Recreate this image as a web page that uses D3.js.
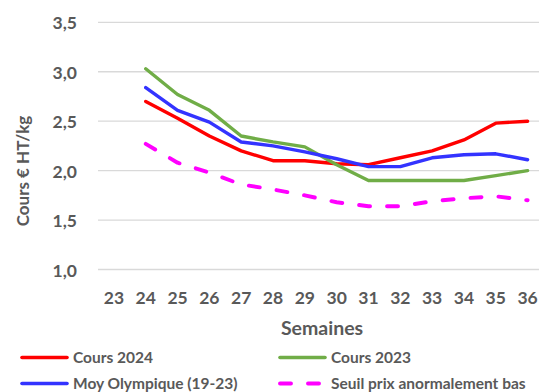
<!DOCTYPE html>
<html>
<head>
<meta charset="utf-8">
<script src="https://cdn.jsdelivr.net/npm/d3@7"></script>
<style>
  html, body { margin: 0; padding: 0; background: #fff; }
  svg { display: block; }
  text { font-family: Lato, "Open Sans", sans-serif; font-weight: bold; fill: #595959; }
</style>
</head>
<body>
<svg id="chart" width="539" height="392"></svg>
<script>
// Weekly price series (€ HT/kg)
const weeks = ["23","24","25","26","27","28","29","30","31","32","33","34","35","36"];
const dataWeeks = ["24","25","26","27","28","29","30","31","32","33","34","35","36"];
const cours2024 = [2.70, 2.53, 2.35, 2.20, 2.10, 2.10, 2.07, 2.06, 2.13, 2.20, 2.31, 2.48, 2.50];
const cours2023 = [3.03, 2.77, 2.61, 2.35, 2.29, 2.24, 2.06, 1.90, 1.90, 1.90, 1.90, 1.95, 2.00];
const moyOlympique = [2.84, 2.61, 2.49, 2.29, 2.25, 2.19, 2.12, 2.04, 2.04, 2.13, 2.16, 2.17, 2.11];
const seuilBas = [2.27, 2.08, 1.98, 1.86, 1.81, 1.75, 1.68, 1.64, 1.64, 1.69, 1.72, 1.74, 1.70];
const yTicks = [1.0, 1.5, 2.0, 2.5, 3.0, 3.5];

const seriesList = [
  { name: "Cours 2024", values: cours2024, color: "#FF0000", dash: null },
  { name: "Cours 2023", values: cours2023, color: "#70AD47", dash: null },
  { name: "Moy Olympique (19-23)", values: moyOlympique, color: "#3333FF", dash: null },
  { name: "Seuil prix anormalement bas", values: seuilBas, color: "#FF00FF", dash: "11,17" }
];

const svg = d3.select("#chart");

const x = d3.scaleBand().domain(weeks).range([98, 543.5]);
const y = d3.scaleLinear().domain([1.0, 3.5]).range([269.5, 22.3]);
const fmt = v => v.toFixed(1).replace(".", ",");

// Horizontal gridlines
svg.append("g")
  .selectAll("line")
  .data(yTicks)
  .join("line")
  .attr("x1", x.range()[0])
  .attr("x2", x.range()[1])
  .attr("y1", d => y(d))
  .attr("y2", d => y(d))
  .attr("stroke", "#d9d9d9")
  .attr("stroke-width", 1.3);

const tickStyle = sel => sel
  .style("font-size", "17.5px")
  .style("font-family", "Lato, 'Open Sans', sans-serif")
  .style("font-weight", "bold")
  .attr("fill", "#595959");

// Y axis labels
const yAxis = svg.append("g")
  .attr("transform", "translate(77,1)")
  .call(d3.axisLeft(y).tickValues(yTicks).tickFormat(fmt).tickSize(0).tickPadding(0));
yAxis.select(".domain").remove();
yAxis.selectAll("text").call(tickStyle);

// X axis labels
const xAxis = svg.append("g")
  .attr("transform", "translate(0,292)")
  .call(d3.axisBottom(x).tickSize(0).tickPadding(0));
xAxis.select(".domain").remove();
xAxis.selectAll("text").call(tickStyle);

// Axis titles
svg.append("text")
  .attr("x", 322)
  .attr("y", 335)
  .attr("text-anchor", "middle")
  .style("font-size", "19.5px")
  .text("Semaines");

svg.append("text")
  .attr("transform", "translate(29,171) rotate(-90)")
  .attr("text-anchor", "middle")
  .style("font-size", "17px")
  .text("Cours € HT/kg");

// Series lines
const line = d3.line()
  .x((d, i) => x(dataWeeks[i]) + x.bandwidth() / 2)
  .y(d => y(d));

seriesList.forEach(s => {
  svg.append("path")
    .datum(s.values)
    .attr("d", line)
    .attr("fill", "none")
    .attr("stroke", s.color)
    .attr("stroke-width", s.dash ? 3.9 : 3.4)
    .attr("stroke-linejoin", "round")
    .attr("stroke-linecap", "round")
    .attr("stroke-dasharray", s.dash);
});

// Legend
const legendPos = [
  { lx: 21, ty: 358 }, { lx: 279, ty: 358 },
  { lx: 21, ty: 384 }, { lx: 279, ty: 384 }
];
const legend = svg.append("g");
seriesList.forEach((s, i) => {
  const p = legendPos[i];
  legend.append("line")
    .attr("x1", p.lx + 1).attr("x2", p.lx + 46)
    .attr("y1", p.ty - 0.5).attr("y2", p.ty - 0.5)
    .attr("stroke", s.color)
    .attr("stroke-width", s.dash ? 3.9 : 3.6)
    .attr("stroke-linecap", "round")
    .attr("stroke-dasharray", s.dash ? "11,17" : null);
  legend.append("text")
    .attr("x", p.lx + 52)
    .attr("y", p.ty)
    .attr("dy", "0.35em")
    .style("font-size", "15.5px")
    .text(s.name);
});
</script>
</body>
</html>
